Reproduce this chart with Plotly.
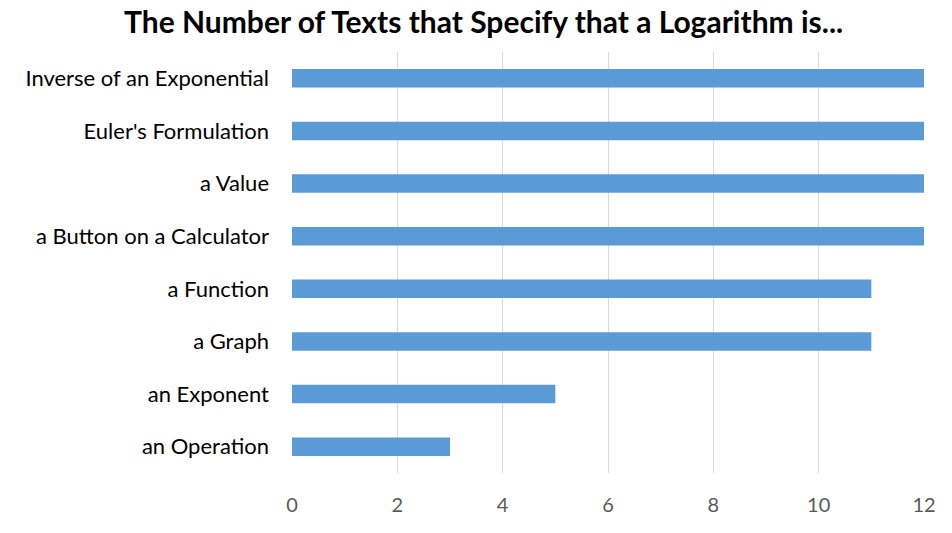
import plotly.graph_objects as go

categories = [
    "an Operation",
    "an Exponent",
    "a Graph",
    "a Function",
    "a Button on a Calculator",
    "a Value",
    "Euler's Formulation",
    "Inverse of an Exponential",
]
values = [3, 5, 11, 11, 12, 12, 12, 12]
x_ticks = [0, 2, 4, 6, 8, 10, 12]

fig = go.Figure(
    go.Bar(
        x=values,
        y=categories,
        orientation="h",
        marker=dict(color="#5B9BD5", line=dict(width=0)),
        width=0.35,
    )
)

fig.update_layout(
    width=952,
    height=533,
    paper_bgcolor="white",
    plot_bgcolor="white",
    margin=dict(l=292, r=28, t=52, b=60),
    title=dict(
        text="<b>The Number of Texts that Specify that a Logarithm is...</b>",
        x=0.508,
        xanchor="center",
        xref="container",
        y=0.958,
        yanchor="middle",
        font=dict(family="Lato", size=30, color="#000000"),
    ),
    showlegend=False,
)

fig.update_xaxes(
    range=[0, 12],
    tickvals=x_ticks,
    showgrid=True,
    gridcolor="#D9D9D9",
    gridwidth=1.3,
    zeroline=False,
    showline=False,
    ticks="",
    ticklabelstandoff=18,
    tickfont=dict(family="Lato", size=20, color="#595959"),
)
fig.update_yaxes(
    showgrid=False,
    zeroline=False,
    showline=False,
    ticks="",
    ticklabelstandoff=22,
    tickfont=dict(family="Lato", size=22, color="#000000"),
)

fig.write_html("out.html")
